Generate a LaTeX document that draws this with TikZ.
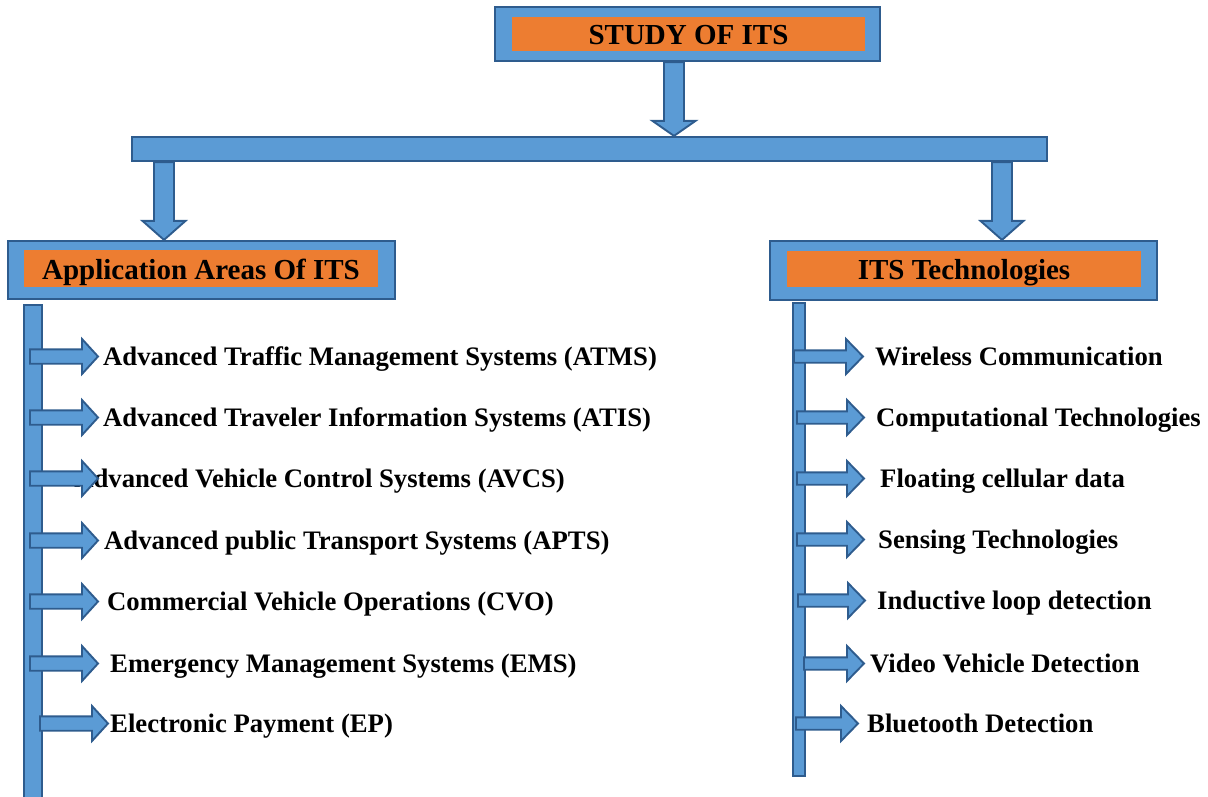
\documentclass[tikz,border=0pt]{standalone}
\usepackage{fontspec}
\setmainfont{Liberation Serif}
\usetikzlibrary{calc}
\definecolor{itsblue}{HTML}{5B9BD5}
\definecolor{itsedge}{HTML}{2E5C8E}
\definecolor{itsorange}{HTML}{ED7D31}

\begin{document}
\begin{tikzpicture}[x=1pt,y=-1pt,
 itsframe/.style={draw=itsedge,fill=itsblue,line width=2.2pt,inner sep=0pt},
 headtext/.style={fill=itsorange,inner sep=0pt,text height=21pt,text depth=0pt,
   font=\bfseries\fontsize{29}{34}\selectfont},
 item/.style={anchor=base west,inner sep=0pt,text height=17pt,text depth=0pt,
   font=\bfseries\fontsize{26.7}{30}\selectfont},
 fat/.style n args={3}{draw=itsedge,fill=itsblue,line width=1.9pt,
   to path={($(\tikztostart)!#1!90:(\tikztotarget)$)
     -- ($(\tikztotarget)!#3!(\tikztostart)!#1!-90:(\tikztostart)$)
     -- ($(\tikztotarget)!#3!(\tikztostart)!#2!-90:(\tikztostart)$)
     -- (\tikztotarget)
     -- ($(\tikztotarget)!#3!(\tikztostart)!#2!90:(\tikztostart)$)
     -- ($(\tikztotarget)!#3!(\tikztostart)!#1!90:(\tikztostart)$)
     -- ($(\tikztostart)!#1!-90:(\tikztotarget)$) -- cycle}},
 itsdown/.style={fat={10pt}{21.5pt}{19pt}},
 leftarr/.style={fat={7.2pt}{17.5pt}{16pt}},
 rightarr/.style={fat={6.2pt}{17.5pt}{17pt}}]
\useasboundingbox (0,0) rectangle (1208,796);

\node[itsframe,minimum width=385,minimum height=54] (study) at (687.5,34) {};
\node[headtext,minimum width=353,minimum height=34] (studytxt) at (688.5,34) {STUDY OF ITS};
\node[itsframe,minimum width=915,minimum height=24] (hbar) at (589.5,149) {};
\node[itsframe,minimum width=387,minimum height=58] (apps) at (201.5,270) {};
\node[headtext,minimum width=354,minimum height=37] (appstxt) at (201,268.5) {Application Areas Of ITS};
\node[itsframe,minimum width=387,minimum height=59] (tech) at (963.5,270.5) {};
\node[headtext,minimum width=354,minimum height=36] (techtxt) at (964,269) {ITS Technologies};

\coordinate (c1) at (674,0);
\coordinate (c2) at (164,0);
\coordinate (c3) at (1002,0);
\draw[fat={10pt}{21.5pt}{15pt}] (c1 |- study.south) to (c1 |- hbar.north);
\draw[itsdown] (c2 |- hbar.south) to (c2 |- apps.north);
\draw[itsdown] (c3 |- hbar.south) to (c3 |- tech.north);

\node[itsframe,minimum width=18,minimum height=515] (lbar) at (33,562.5) {};
\node[itsframe,minimum width=12,minimum height=473] (rbar) at (799,539.5) {};

\node[item] (a1) at (103,365) {Advanced Traffic Management Systems (ATMS)};
\node[item] (a2) at (103,426) {Advanced Traveler Information Systems (ATIS)};
\node[item,anchor=base east] (a3) at (565,487) {Advanced Vehicle Control Systems (AVCS)};
\node[item] (a4) at (104,549) {Advanced public Transport Systems (APTS)};
\node[item] (a5) at (107,610) {Commercial Vehicle Operations (CVO)};
\node[item] (a6) at (110,672) {Emergency Management Systems (EMS)};
\node[item] (a7) at (110,732) {Electronic Payment (EP)};

\node[item] (t1) at (875,365) {Wireless Communication};
\node[item] (t2) at (876,426) {Computational Technologies};
\node[item] (t3) at (880,487) {Floating cellular data};
\node[item] (t4) at (878,548) {Sensing Technologies};
\node[item] (t5) at (877,609) {Inductive loop detection};
\node[item] (t6) at (870,672) {Video Vehicle Detection};
\node[item] (t7) at (867,732) {Bluetooth Detection};

\draw[leftarr] (30,0 |- a1.west) to (98,0 |- a1.west);
\draw[leftarr] (30,0 |- a2.west) to (98,0 |- a2.west);
\draw[leftarr] (30,0 |- a3.west) to (98,0 |- a3.west);
\draw[leftarr] (30,0 |- a4.west) to (98,0 |- a4.west);
\draw[leftarr] (30,0 |- a5.west) to (98,0 |- a5.west);
\draw[leftarr] (30,0 |- a6.west) to (98,0 |- a6.west);
\draw[leftarr] (40,0 |- a7.west) to (108,0 |- a7.west);

\draw[rightarr] (794,0 |- t1.west) to (863,0 |- t1.west);
\draw[rightarr] (797,0 |- t2.west) to (864,0 |- t2.west);
\draw[rightarr] (797,0 |- t3.west) to (864,0 |- t3.west);
\draw[rightarr] (797,0 |- t4.west) to (864,0 |- t4.west);
\draw[rightarr] (798,0 |- t5.west) to (865,0 |- t5.west);
\draw[rightarr] (804,0 |- t6.west) to (864,0 |- t6.west);
\draw[rightarr] (796,0 |- t7.west) to (858,0 |- t7.west);
\end{tikzpicture}
\end{document}
